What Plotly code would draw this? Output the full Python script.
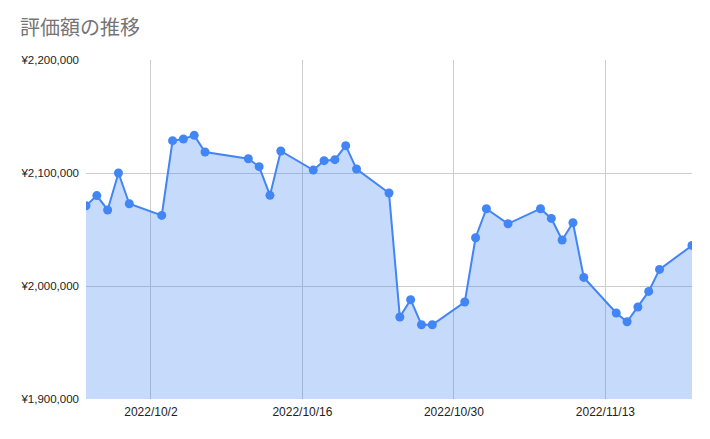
import plotly.graph_objects as go

dates = [
    "2022-09-26", "2022-09-27", "2022-09-28", "2022-09-29", "2022-09-30",
    "2022-10-03", "2022-10-04", "2022-10-05", "2022-10-06", "2022-10-07",
    "2022-10-11", "2022-10-12", "2022-10-13", "2022-10-14",
    "2022-10-17", "2022-10-18", "2022-10-19", "2022-10-20", "2022-10-21",
    "2022-10-24", "2022-10-25", "2022-10-26", "2022-10-27", "2022-10-28",
    "2022-10-31", "2022-11-01", "2022-11-02", "2022-11-04",
    "2022-11-07", "2022-11-08", "2022-11-09", "2022-11-10", "2022-11-11",
    "2022-11-14", "2022-11-15", "2022-11-16", "2022-11-17", "2022-11-18",
    "2022-11-21",
]
values = [
    2071000, 2080000, 2067300, 2100000, 2072800,
    2062500, 2128600, 2130100, 2133300, 2118600,
    2112600, 2105600, 2080200, 2119500,
    2102600, 2110900, 2111800, 2124200, 2103500,
    2082300, 1972600, 1987900, 1965700, 1965700,
    1985800, 2042700, 2068400, 2055100,
    2068400, 2059800, 2040700, 2056000, 2007600,
    1976100, 1968400, 1981400, 1995200, 2014700,
    2035900,
]
x_ticks = ["2022-10-02", "2022-10-16", "2022-10-30", "2022-11-13"]
x_tick_labels = ["2022/10/2", "2022/10/16", "2022/10/30", "2022/11/13"]
y_ticks = [1900000, 2000000, 2100000, 2200000]
y_tick_labels = ["¥1,900,000", "¥2,000,000", "¥2,100,000", "¥2,200,000"]

fig = go.Figure()
fig.add_trace(go.Scatter(
    x=dates, y=values, mode="lines+markers",
    line=dict(color="#4285F4", width=2),
    marker=dict(color="#4285F4", size=9),
    fill="tozeroy", fillcolor="rgba(66,133,244,0.3)",
    hoverinfo="x+y",
))

fig.update_layout(
    width=710, height=439,
    margin=dict(l=78, r=26, t=52, b=48),
    paper_bgcolor="white", plot_bgcolor="white",
    showlegend=False,
    font=dict(family="Liberation Sans, Arial, sans-serif", size=12, color="#222222"),
    title=dict(text="評価額の推移", x=12 / 710, xanchor="left", xref="container",
               y=1 - 20 / 439, yanchor="middle",
               font=dict(family="Noto Sans CJK JP, sans-serif", size=20, color="#757575")),
)
fig.update_xaxes(
    range=["2022-09-26", "2022-11-21"],
    tickvals=x_ticks, ticktext=x_tick_labels,
    showgrid=True, gridcolor="#cccccc", gridwidth=1,
    zeroline=False, showline=False, ticks="", ticklabelstandoff=4,
    tickfont=dict(size=12, color="#222222"),
)
fig.update_yaxes(
    range=[1900000, 2200000],
    tickvals=y_ticks, ticktext=y_tick_labels,
    showgrid=True, gridcolor="#cccccc", gridwidth=1,
    zeroline=False, showline=False, ticks="", ticklabelstandoff=6,
    tickfont=dict(size=11.5, color="#222222"),
)

fig.write_html("out.html")
